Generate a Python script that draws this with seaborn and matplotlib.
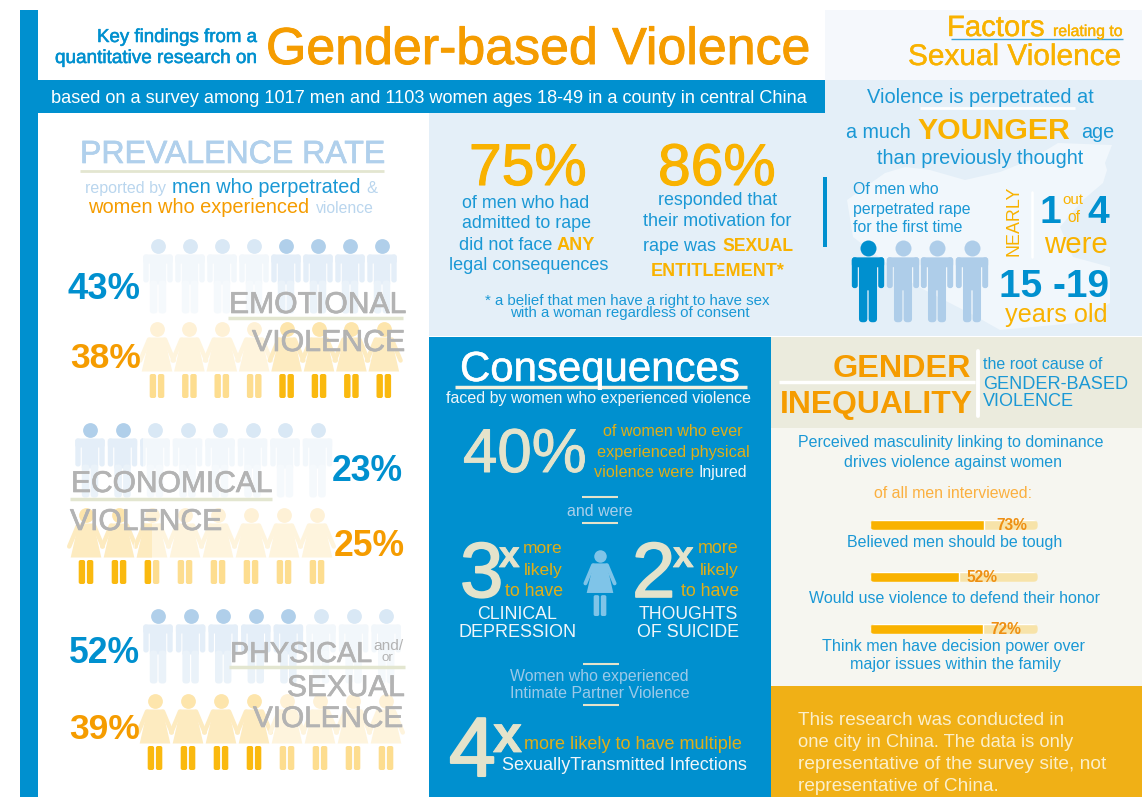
import matplotlib
matplotlib.use("Agg")
import matplotlib.pyplot as plt
import matplotlib.patheffects as pe
from matplotlib.patches import Rectangle, FancyBboxPatch, Polygon
import seaborn as sns
import pandas as pd

# ---------- data ----------
violence_types = ["EMOTIONAL", "ECONOMICAL", "PHYSICAL"]
men_rates = [43, 23, 52]
women_rates = [38, 25, 39]
men_dark_figures = [4, 2.15, 5]
women_dark_figures = [4, 2.5, 4]
attitudes = ["Believed men should be tough",
             "Would use violence to defend their honor",
             "Think men have decision power over"]
attitude_labels = [73, 52, 72]
attitude_bar_lengths = [68, 53, 67]
headline_stats = [75, 86]
first_rape_dark = [1, 0, 0, 0]

BLUE = "#0090CF"; TXT = "#1A98D5"; ORANGE = "#F59C00"; AMBER = "#F9B200"; GOLD = "#E0AE18"
CREAM = "#E4E3CB"; PALEBLUE = "#B0D0EC"; GREY = "#B3B3B3"; LINE = "#E3E6D0"

sns.set_theme(style="white")
plt.rcParams["font.family"] = ["Liberation Sans", "DejaVu Sans"]

fig = plt.figure(figsize=(11.42, 7.97), dpi=100, facecolor="white")
ax = fig.add_axes([0, 0, 1, 1])
ax.set_xlim(0, 1142); ax.set_ylim(797, 0); ax.axis("off")
renderer = fig.canvas.get_renderer()


def t(x0, x1, y, s, color, bold=False, z=10, family=None, stroke=0, px=None):
    """Text with baseline y, fitted to run from x0 to x1 (or a given em size in pixels)."""
    kw = dict(color=color, fontsize=10, va="baseline", ha="left", zorder=z,
              fontweight="bold" if bold else "normal")
    if family:
        kw["family"] = family
    txt = ax.text(x0, y, s, **kw)
    if px:
        txt.set_fontsize(px * 0.72)
    else:
        w = txt.get_window_extent(renderer).width
        txt.set_fontsize(10 * (x1 - x0) / w)
    if stroke:
        txt.set_path_effects([pe.withStroke(linewidth=stroke, foreground=color)])
    return txt


def box(x0, y0, x1, y1, c, z=1):
    ax.add_patch(Rectangle((x0, y0), x1 - x0, y1 - y0, fc=c, ec="none", zorder=z))


def hline(x0, x1, y, c, lw=2.0, z=9):
    ax.plot([x0, x1], [y, y], color=c, lw=lw, solid_capstyle="butt", zorder=z)


def rbox(x0, y0, x1, y1, c, z=3, r=2.0):
    p = FancyBboxPatch((x0 + r, y0 + r), x1 - x0 - 2 * r, y1 - y0 - 2 * r,
                       boxstyle=f"round,pad={r}", fc=c, ec="none", zorder=z)
    ax.add_patch(p)
    return p


heads = []


def man_body(cx, top, k, body, legs, z=3):
    sy = top + 8.5 * k
    parts = [rbox(cx - 14.7 * k, sy, cx + 14.7 * k, sy + 9 * k, body, r=2.5 * k, z=z),
             rbox(cx - 14.7 * k, sy, cx - 9.3 * k, sy + 28 * k, body, r=2.5 * k, z=z),
             rbox(cx + 9.3 * k, sy, cx + 14.7 * k, sy + 28 * k, body, r=2.5 * k, z=z),
             rbox(cx - 8.2 * k, sy + 1, cx + 8.2 * k, sy + 30 * k, body, r=0.5, z=z),
             rbox(cx - 8.2 * k, sy + 26 * k, cx - 0.6 * k, sy + 59 * k, legs, r=3.2 * k, z=z),
             rbox(cx + 0.6 * k, sy + 26 * k, cx + 8.2 * k, sy + 59 * k, legs, r=3.2 * k, z=z)]
    return parts


def woman_body(cx, top, k, body, legs, z=3):
    sy = top + 8.5 * k
    dress = Polygon([(cx - 7.5 * k, sy), (cx + 7.5 * k, sy), (cx + 15.3 * k, sy + 34 * k),
                     (cx - 15.3 * k, sy + 34 * k)], fc=body, ec="none", zorder=z)
    ax.add_patch(dress)
    parts = [dress]
    for sg in (-1, 1):
        parts += ax.plot([cx + sg * 8 * k, cx + sg * 16.8 * k], [sy + 2 * k, sy + 23 * k], color=body,
                         lw=3.2 * k, solid_capstyle="round", zorder=z)
    parts.append(rbox(cx - 7.3 * k, sy + 36.5 * k, cx - 0.9 * k, sy + 60.5 * k, legs, r=2 * k, z=z))
    parts.append(rbox(cx + 0.9 * k, sy + 36.5 * k, cx + 7.3 * k, sy + 60.5 * k, legs, r=2 * k, z=z))
    return parts


def figure_row(xs, y, count, from_right, draw, r, pale, dark):
    n = len(xs)
    for i, cx in enumerate(xs):
        pos = n - 1 - i if from_right else i
        frac = max(0, min(1, count - pos))
        heads.append((cx, y, 2 * r, dark[0] if frac == 1 else pale[0]))
        draw(cx, y, 1, *(dark[1:] if frac == 1 else pale[1:]))
        if 0 < frac < 1:
            parts = draw(cx, y, 1, *dark[1:], z=3.5)
            clip = Rectangle((cx - 17, y - 10), 34 * frac, 90, transform=ax.transData)
            for p in parts:
                p.set_clip_path(clip)


# ---------- panels ----------
box(20, 10, 38, 797, BLUE)
box(38, 80, 825, 113, BLUE)
box(825, 10, 1142, 80, "#F5F8FC")
box(429, 113, 825, 336, "#E4EFF8")
box(825, 80, 1142, 336, "#E4EFF8")
ax.add_patch(Polygon([(847, 200), (885, 173), (905, 167), (930, 170), (965, 180), (1000, 172), (1030, 160),
                      (1058, 143), (1112, 145), (1105, 163), (1107, 170), (1103, 183), (1083, 200),
                      (1060, 227), (1073, 257), (1110, 267), (1110, 303), (1077, 323), (1000, 330),
                      (977, 317), (915, 285), (853, 237)],
                     fc="#F1F7FC", ec="none", zorder=2))
box(429, 337, 771, 797, BLUE)
box(771, 337, 1142, 428, "#EBEBDD")
box(771, 428, 1142, 686, "#F6F6F0")
box(771, 686, 1142, 797, "#F0B016")

# ---------- header ----------
t(97, 258, 42, "Key findings from a", BLUE, stroke=0.4)
t(55, 258, 63, "quantitative research on", BLUE, stroke=0.4)
t(266, 812, 64, "Gender-based Violence", ORANGE, stroke=0.7)
t(51, 808, 103, "based on a survey among 1017 men and 1103 women ages 18-49 in a county in central China", "white")
t(947, 1045, 36, "Factors", AMBER, stroke=0.3)
t(1053, 1123, 36, "relating to", AMBER, stroke=0.3)
hline(951, 1123, 39, "#3EA5DA", 1.0, z=9)
t(908, 1122, 65, "Sexual Violence", AMBER, stroke=0.3)

# ---------- younger panel ----------
t(867, 1094, 103, "Violence is perpetrated at", TXT)
hline(920, 1075, 108, "white", 2.0, z=5)
t(846, 911, 138, "a much", TXT)
t(918, 1071, 139, "YOUNGER", AMBER, True)
t(1081, 1114, 138, "age", TXT)
t(877, 1084, 164, "than previously thought", TXT)
box(823, 177, 827, 247, BLUE, z=5)
t(853, 939, 194, "Of men who", TXT)
t(853, 971, 214, "perpetrated rape", TXT)
t(853, 963, 232, "for the first time", TXT)
for cx, d in zip([868, 903, 937, 972], first_rape_dark):
    c = BLUE if d else "#AECDE9"
    heads.append((cx, 248, 16, c))
    man_body(cx, 248, 1.1, c, c)
ax.text(1023, 256, "NEARLY", color=AMBER, rotation=90, fontsize=12.9, ha="right", va="bottom", zorder=10)
ax.plot([1032, 1032], [192, 257], color="white", lw=1.8, zorder=5)
t(1040, 1058, 223, "1", BLUE, True, px=39)
t(1062, 1083, 204, "out", AMBER)
t(1067, 1078, 222, "of", AMBER, px=15.5)
t(1087, 1109, 223, "4", BLUE, True, px=39)
t(1044, 1108, 253, "were", AMBER)
t(999, 1109, 297, "15 -19", BLUE, True)
t(1005, 1108, 322, "years old", AMBER)

# ---------- headline stats ----------
t(469, 587, 185, f"{headline_stats[0]}%", AMBER, stroke=0.8)
t(658, 776, 185, f"{headline_stats[1]}%", AMBER, stroke=0.8)
t(462, 590, 208, "of men who had", TXT)
t(462, 592, 228, "admitted to rape", TXT)
t(459, 553, 250, "did not face", TXT)
t(557, 595, 250, "ANY", AMBER, True)
t(449, 609, 270, "legal consequences", TXT)
t(658, 778, 205, "responded that", TXT)
t(643, 792, 226, "their motivation for", TXT)
t(643, 716, 251, "rape was", TXT)
t(722, 793, 251, "SEXUAL", AMBER, True)
t(651, 783, 276, "ENTITLEMENT*", AMBER, True)
t(485, 771, 305, "* a belief that men have a right to have sex", TXT)
t(510, 750, 317, "with a woman regardless of consent", TXT)

# ---------- prevalence ----------
t(80, 385, 163, "PREVALENCE RATE", PALEBLUE, stroke=0.5)
hline(80, 384, 171, LINE, 2)
t(85, 166, 193, "reported by", "#BAD6EE")
t(172, 361, 193, "men who perpetrated", TXT)
t(366, 377, 193, "&", "#BAD6EE")
t(88, 310, 213, "women who experienced", ORANGE)
t(316, 374, 213, "violence", "#BAD6EE")

MAN_PALE = ("#D9E8F5", "#F2F7FB", "#F5F9FC")
MAN_DARK = ("#B0CFEA", "#E4EEF8", "#EAF2F9")
WOMAN_PALE = ("#FEF1D6", "#FEF4DD", "#FDDD8F")
WOMAN_DARK = ("#FDE5AC", "#FDEBC0", "#FAB90F")
man_rows = [[158 + 32 * i for i in range(8)], [90 + 32.5 * i for i in range(8)], [158 + 32.6 * i for i in range(8)]]
woman_rows = [[157 + 32.4 * i for i in range(8)], [86 + 33 * i for i in range(8)], [155 + 33 * i for i in range(8)]]
for row, (mx, wx, my, wy) in enumerate(zip(man_rows, woman_rows, [246, 430, 616], [329, 515, 701])):
    figure_row(mx, my, men_dark_figures[row], row == 0, man_body, 7.4, MAN_PALE, MAN_DARK)
    figure_row(wx, wy, women_dark_figures[row], row == 0, woman_body, 7.4, WOMAN_PALE, WOMAN_DARK)

t(68, 141, 299, f"{men_rates[0]}%", BLUE, True)
t(70, 141, 368, f"{women_rates[0]}%", ORANGE, True)
t(332, 403, 481, f"{men_rates[1]}%", BLUE, True)
t(334, 405, 556, f"{women_rates[1]}%", ORANGE, True)
t(69, 140, 663, f"{men_rates[2]}%", BLUE, True)
t(69, 140, 739, f"{women_rates[2]}%", ORANGE, True)

t(229, 406, 313, violence_types[0], GREY, stroke=0.5)
hline(228, 403, 318, LINE, 2.5)
t(252, 405, 351, "VIOLENCE", GREY, stroke=0.5)
t(71, 272, 492, violence_types[1], GREY, stroke=0.5)
hline(70, 272, 499, LINE, 2.5)
t(70, 222, 530, "VIOLENCE", GREY, stroke=0.5)
t(230, 372, 662, violence_types[2], GREY, stroke=0.5)
t(373, 403, 650, "and/", GREY)
t(382, 394, 661, "or", GREY)
hline(229, 405, 667, LINE, 2.5)
t(287, 405, 696, "SEXUAL", GREY, stroke=0.5)
t(253, 403, 727, "VIOLENCE", GREY, stroke=0.5)

# ---------- consequences ----------
t(460, 740, 381, "Consequences", "white", stroke=0.4)
hline(455, 747, 387, "#F2F1E0", 2.5)
t(446, 752, 403, "faced by women who experienced violence", "#F0F6FA")
t(463, 587, 472, "40%", CREAM, stroke=0.7)
t(603, 744, 436, "of women who ever", GOLD)
t(597, 749, 457, "experienced physical", GOLD)
t(594, 694, 477, "violence were", GOLD)
t(699, 748, 477, "Injured", "#F0F6FA")
hline(582, 618, 497, CREAM, 1.5)
t(567, 633, 516, "and were", "#A9CFEA")
hline(582, 618, 523, CREAM, 1.5)

t(460, 503, 597, "3", CREAM, stroke=1.2, px=78)
t(499, 519, 567, "x", CREAM, True, stroke=0.6, px=37)
t(523, 563, 553, "more", GOLD)
t(524, 563, 575, "likely", GOLD)
t(505, 563, 596, "to have", GOLD)
t(477, 557, 619, "CLINICAL", "#F0F6FA")
t(458, 576, 637, "DEPRESSION", "#F0F6FA")
heads.append((600, 556, 12.5, "#7FC4E8"))
woman_body(600, 556, 0.87, "#7FC4E8", "#7FC4E8", z=3)
t(632, 675, 597, "2", CREAM, stroke=1.2, px=78)
t(673, 693, 567, "x", CREAM, True, stroke=0.6, px=37)
t(698, 739, 553, "more", GOLD)
t(700, 739, 575, "likely", GOLD)
t(681, 739, 596, "to have", GOLD)
t(639, 738, 619, "THOUGHTS", "#F0F6FA")
t(637, 739, 637, "OF SUICIDE", "#F0F6FA")
hline(583, 619, 664, CREAM, 1.5)
t(510, 690, 681, "Women who experienced", "#9CC9E8")
t(510, 690, 698, "Intimate Partner Violence", "#9CC9E8")
hline(583, 619, 705, CREAM, 1.5)
t(449, 497, 776, "4", CREAM, stroke=1.5, px=84)
t(493, 521, 752, "x", CREAM, True, stroke=0.6, px=52)
t(524, 742, 749, "more likely to have multiple", GOLD)
t(502, 747, 770, "SexuallyTransmitted Infections", "#F0F6FA")

# ---------- gender inequality ----------
t(833, 971, 377, "GENDER", ORANGE, True)
hline(779, 975, 382, "white", 2.5)
t(780, 972, 413, "INEQUALITY", ORANGE, True)
ax.plot([978, 978], [351, 416], color="white", lw=2.8, zorder=9)
t(983, 1103, 369, "the root cause of", TXT)
t(983, 1128, 389, "GENDER-BASED", TXT)
t(983, 1074, 406, "VIOLENCE", TXT)
t(798, 1105, 447, "Perceived masculinity linking to dominance", TXT)
t(844, 1063, 467, "drives violence against women", TXT)
t(874, 1033, 498, "of all men interviewed:", "#FBB040")

bar_centres = [525, 577, 629]
for cy, name, length, label, lx, ly in zip(bar_centres, attitudes, attitude_bar_lengths, attitude_labels,
                                           [996, 966, 990], [530, 582, 634]):
    bax = fig.add_axes([870 / 1142, 1 - (cy + 5) / 797, 168 / 1142, 10 / 797], zorder=5)
    df = pd.DataFrame({"item": [name], "track": [100], "value": [length]})
    sns.barplot(data=df, x="track", y="item", color="#F7E3A9", saturation=1, width=1, ax=bax)
    sns.barplot(data=df, x="value", y="item", color="#F9B200", saturation=1, width=1, ax=bax)
    bax.set_xlim(0, 100); bax.axis("off"); bax.patch.set_alpha(0)
    clip = FancyBboxPatch((875, cy - 0.1), 158, 0.2, boxstyle="round,pad=4.9", transform=ax.transData,
                          fc="none", ec="none")
    for p in bax.patches:
        p.set_clip_path(clip)
    fig.text(lx / 1142, 1 - ly / 797, f"{label}%", color="#EE8F12", fontweight="bold",
             fontsize=11.2, zorder=20, va="baseline", ha="left")

t(847, 1063, 547, attitudes[0], TXT)
t(809, 1102, 603, attitudes[1], TXT)
t(822, 1085, 651, attitudes[2], TXT)
t(850, 1060, 669, "major issues within the family", TXT)

note = "#FBEFCB"
t(798, 1066, 725, "This research was conducted in", note)
t(798, 1075, 747, "one city in China. The data is only", note)
t(798, 1108, 769, "representative of the survey site, not", note)
t(798, 1000, 791, "representative of China.", note)

# ---------- figure heads through seaborn ----------
hd = pd.DataFrame(heads, columns=["x", "y", "d", "c"])
for (c, d), g in hd.groupby(["c", "d"]):
    sns.scatterplot(data=g, x="x", y="y", s=(d * 0.72) ** 2, color=c, linewidth=0,
                    ax=ax, zorder=4, legend=False)
ax.set_xlim(0, 1142); ax.set_ylim(797, 0)

fig.savefig("out.png", dpi=100)
